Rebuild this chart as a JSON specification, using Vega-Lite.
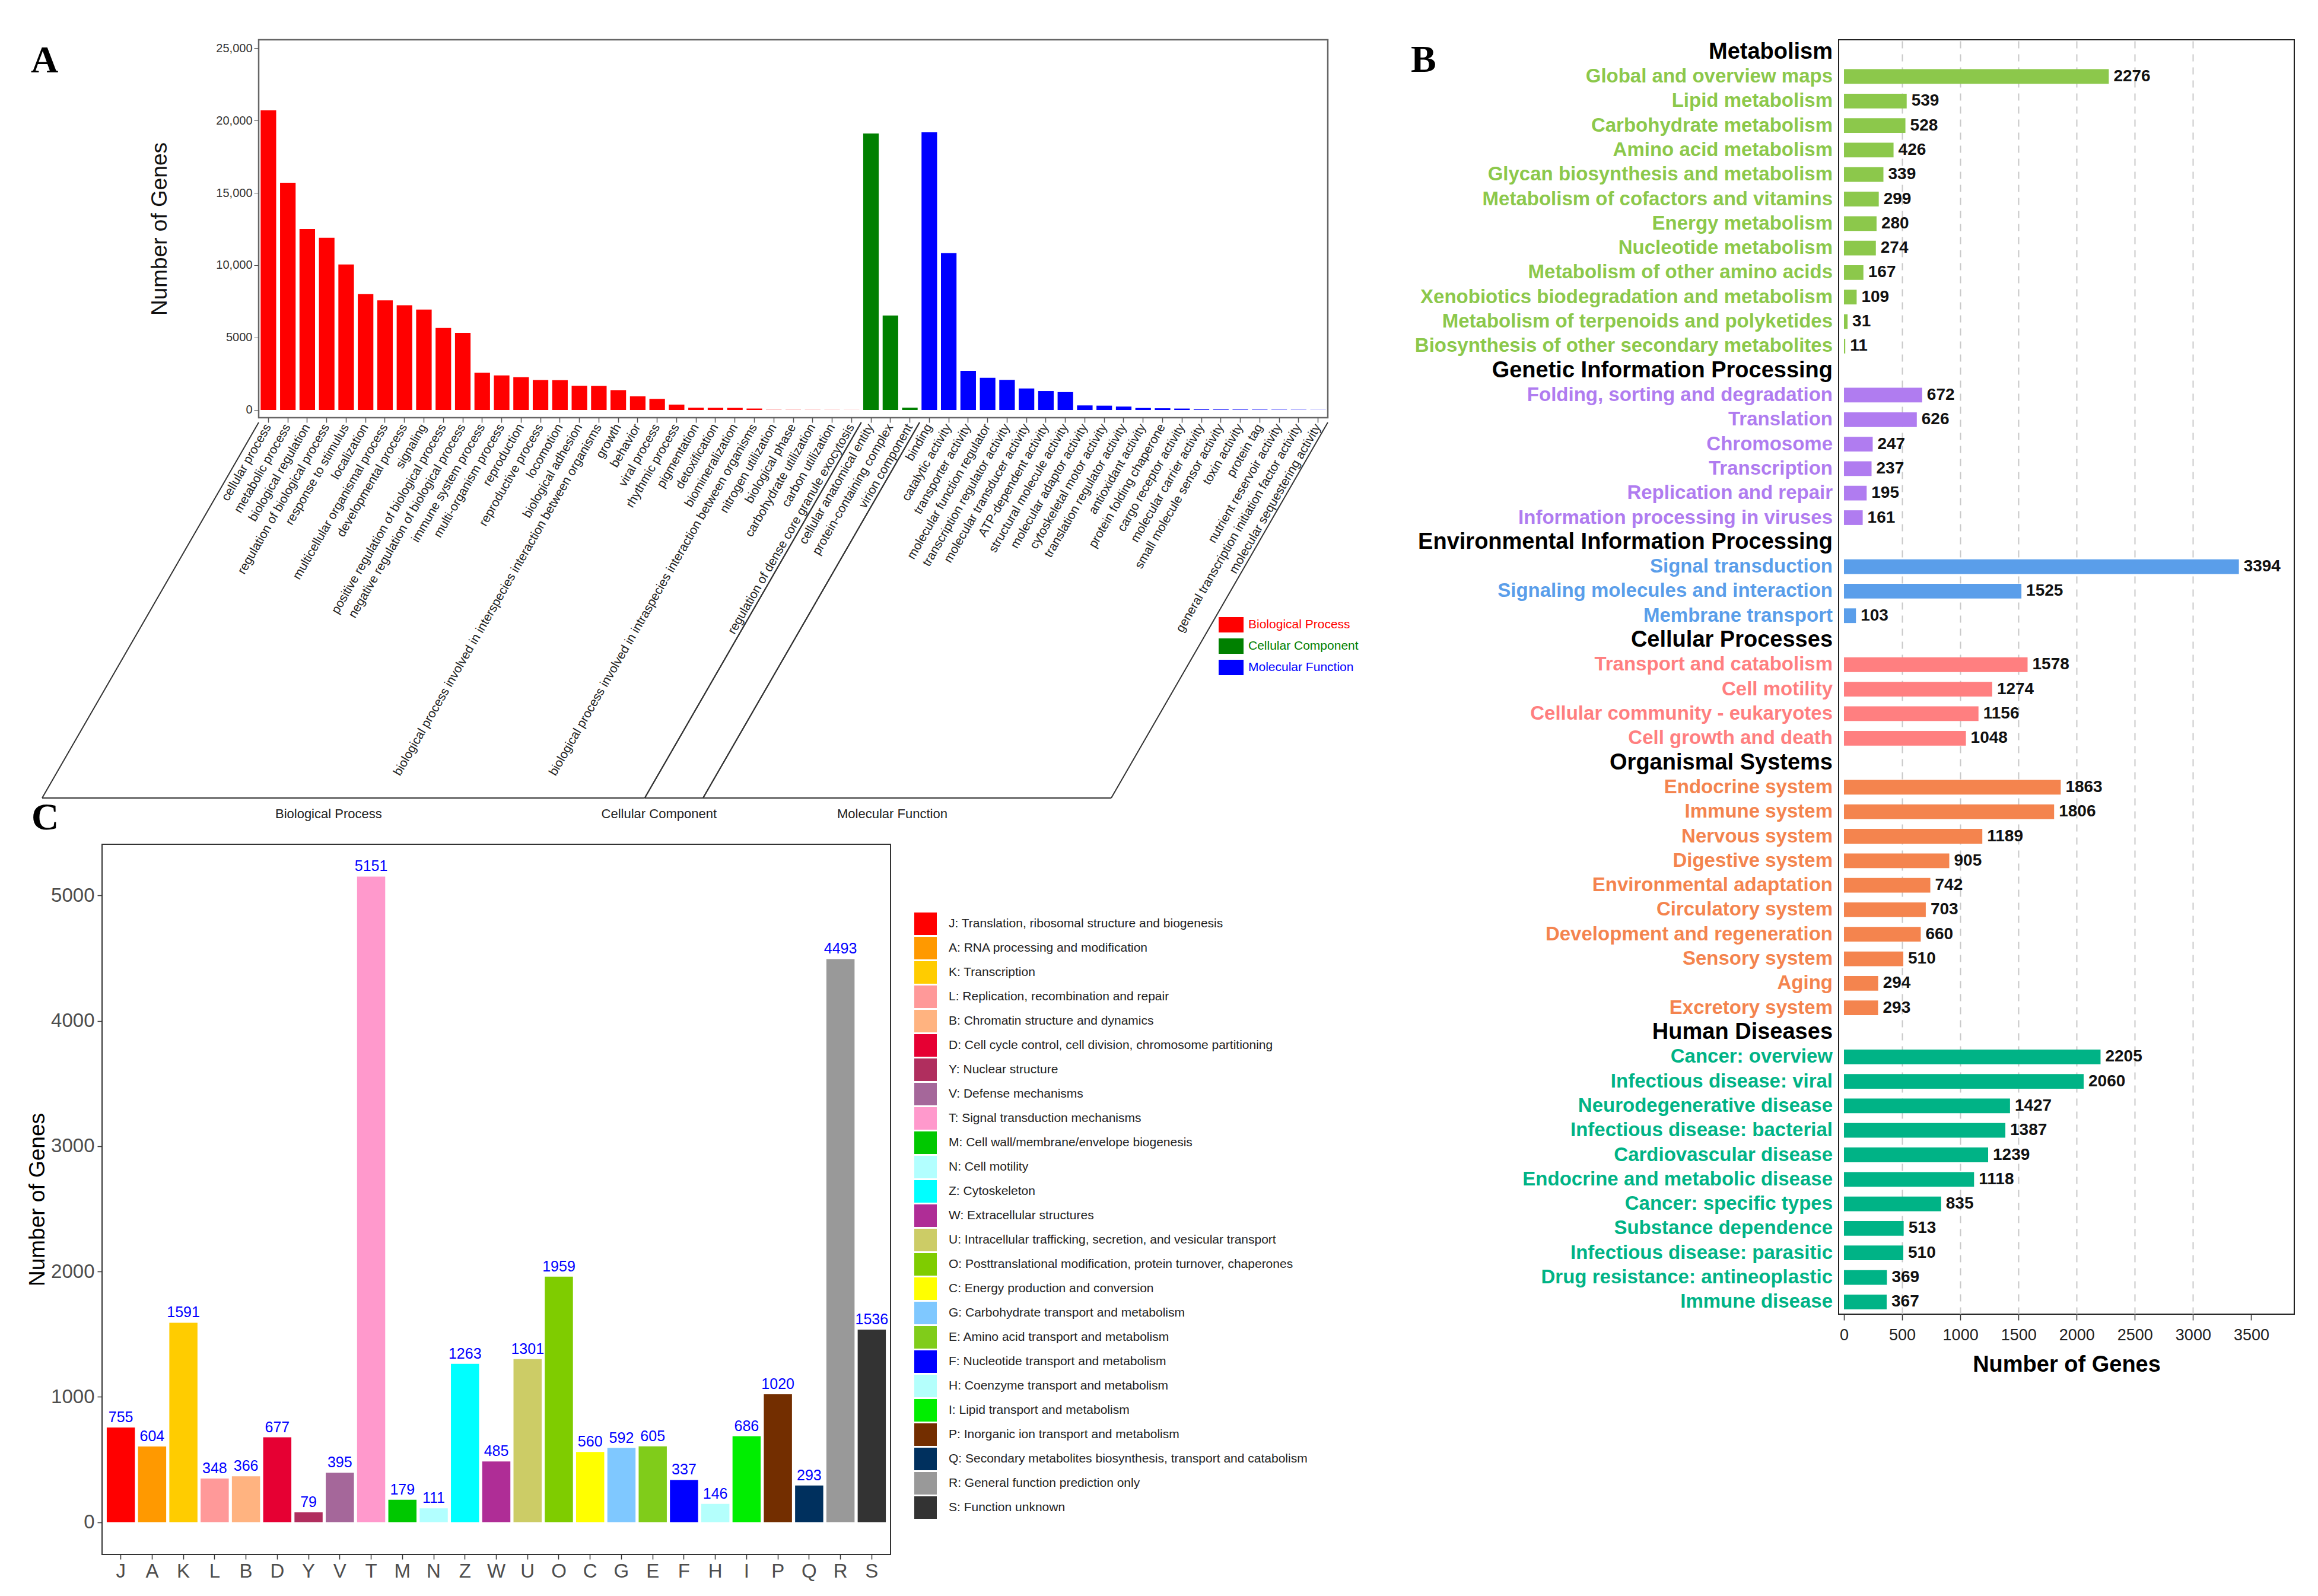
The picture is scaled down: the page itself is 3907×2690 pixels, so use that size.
{
  "$schema": "https://vega.github.io/schema/vega-lite/v6.json",
  "background": "white",
  "padding": {"left": 43, "top": 65, "right": 5, "bottom": 5},
  "config": {
    "font": "Liberation Sans",
    "view": {"stroke": null},
    "axis": {"labelFont": "Liberation Sans", "titleFont": "Liberation Sans"},
    "legend": {"labelFont": "Liberation Sans"},
    "text": {"font": "Liberation Sans"}
  },
  "spacing": 85,
  "resolve": {"scale": {"color": "independent"}, "legend": {"color": "independent"}},
  "hconcat": [
    {
      "spacing": -39,
      "resolve": {"scale": {"color": "independent"}, "legend": {"color": "independent"}},
      "vconcat": [
        {
          "spacing": -123,
          "resolve": {"scale": {"color": "independent"}, "legend": {"color": "independent"}},
          "hconcat": [
            {
              "width": 1,
              "height": 1,
              "view": {"stroke": null},
              "data": {"values": []},
              "mark": {"type": "point", "opacity": 0},
              "encoding": {}
            },
            {
              "width": 1802,
              "height": 637,
              "view": {"stroke": "#666666", "strokeWidth": 2.5},
              "title": {"text": "A", "anchor": "start", "frame": "group", "dx": -384, "dy": 119, "offset": 0, "baseline": "alphabetic", "font": "Liberation Serif", "fontSize": 64, "fontWeight": "bold", "color": "#000000"},
              "data": {"values": [
                {"cat": "cellular process", "group": "Biological Process", "n": 20700},
                {"cat": "metabolic process", "group": "Biological Process", "n": 15700},
                {"cat": "biological regulation", "group": "Biological Process", "n": 12500},
                {"cat": "regulation of biological process", "group": "Biological Process", "n": 11900},
                {"cat": "response to stimulus", "group": "Biological Process", "n": 10050},
                {"cat": "localization", "group": "Biological Process", "n": 8000},
                {"cat": "multicellular organismal process", "group": "Biological Process", "n": 7570},
                {"cat": "developmental process", "group": "Biological Process", "n": 7230},
                {"cat": "signaling", "group": "Biological Process", "n": 6940},
                {"cat": "positive regulation of biological process", "group": "Biological Process", "n": 5670},
                {"cat": "negative regulation of biological process", "group": "Biological Process", "n": 5330},
                {"cat": "immune system process", "group": "Biological Process", "n": 2570},
                {"cat": "multi-organism process", "group": "Biological Process", "n": 2390},
                {"cat": "reproduction", "group": "Biological Process", "n": 2260},
                {"cat": "reproductive process", "group": "Biological Process", "n": 2070},
                {"cat": "locomotion", "group": "Biological Process", "n": 2060},
                {"cat": "biological adhesion", "group": "Biological Process", "n": 1670},
                {"cat": "biological process involved in interspecies interaction between organisms", "group": "Biological Process", "n": 1660},
                {"cat": "growth", "group": "Biological Process", "n": 1370},
                {"cat": "behavior", "group": "Biological Process", "n": 940},
                {"cat": "viral process", "group": "Biological Process", "n": 765},
                {"cat": "rhythmic process", "group": "Biological Process", "n": 372},
                {"cat": "pigmentation", "group": "Biological Process", "n": 157},
                {"cat": "detoxification", "group": "Biological Process", "n": 150},
                {"cat": "biomineralization", "group": "Biological Process", "n": 145},
                {"cat": "biological process involved in intraspecies interaction between organisms", "group": "Biological Process", "n": 100},
                {"cat": "nitrogen utilization", "group": "Biological Process", "n": 12},
                {"cat": "biological phase", "group": "Biological Process", "n": 10},
                {"cat": "carbohydrate utilization", "group": "Biological Process", "n": 8},
                {"cat": "carbon utilization", "group": "Biological Process", "n": 6},
                {"cat": "regulation of dense core granule exocytosis", "group": "Biological Process", "n": 4},
                {"cat": "cellular anatomical entity", "group": "Cellular Component", "n": 19100},
                {"cat": "protein-containing complex", "group": "Cellular Component", "n": 6530},
                {"cat": "virion component", "group": "Cellular Component", "n": 160},
                {"cat": "binding", "group": "Molecular Function", "n": 19180},
                {"cat": "catalytic activity", "group": "Molecular Function", "n": 10840},
                {"cat": "transporter activity", "group": "Molecular Function", "n": 2700},
                {"cat": "molecular function regulator", "group": "Molecular Function", "n": 2220},
                {"cat": "transcription regulator activity", "group": "Molecular Function", "n": 2080},
                {"cat": "molecular transducer activity", "group": "Molecular Function", "n": 1490},
                {"cat": "ATP-dependent activity", "group": "Molecular Function", "n": 1310},
                {"cat": "structural molecule activity", "group": "Molecular Function", "n": 1235},
                {"cat": "molecular adaptor activity", "group": "Molecular Function", "n": 315},
                {"cat": "cytoskeletal motor activity", "group": "Molecular Function", "n": 300},
                {"cat": "translation regulator activity", "group": "Molecular Function", "n": 235},
                {"cat": "antioxidant activity", "group": "Molecular Function", "n": 137},
                {"cat": "protein folding chaperone", "group": "Molecular Function", "n": 118},
                {"cat": "cargo receptor activity", "group": "Molecular Function", "n": 98},
                {"cat": "molecular carrier activity", "group": "Molecular Function", "n": 40},
                {"cat": "small molecule sensor activity", "group": "Molecular Function", "n": 35},
                {"cat": "toxin activity", "group": "Molecular Function", "n": 30},
                {"cat": "protein tag", "group": "Molecular Function", "n": 25},
                {"cat": "nutrient reservoir activity", "group": "Molecular Function", "n": 20},
                {"cat": "general transcription initiation factor activity", "group": "Molecular Function", "n": 15},
                {"cat": "molecular sequestering activity", "group": "Molecular Function", "n": 8}
              ]},
              "layer": [
                {
                  "mark": {"type": "bar"},
                  "encoding": {
                    "x": {"field": "cat", "type": "nominal", "sort": null,
                          "scale": {"paddingInner": 0.2, "paddingOuter": 0.1},
                          "axis": {"title": null, "labelAngle": -60, "labelAlign": "right", "labelBaseline": "middle", "labelFontSize": 21, "labelColor": "#222222", "labelLimit": 1000, "labelPadding": 4, "labelOverlap": false, "tickSize": 8, "tickColor": "#555555", "tickWidth": 1.5, "domain": false}},
                    "y": {"field": "n", "type": "quantitative",
                          "scale": {"domain": [-533, 25574], "nice": false, "zero": false},
                          "axis": {"title": "Number of Genes", "values": [0, 5000, 10000, 15000, 20000, 25000], "labelExpr": "datum.value >= 10000 ? format(datum.value, ',') : format(datum.value, 'd')", "labelFontSize": 20, "labelColor": "#333333", "tickSize": 8, "tickColor": "#555555", "labelPadding": 3, "domain": false, "grid": false, "titleFontSize": 37, "titleFontWeight": "normal", "titleColor": "#111111", "titlePadding": 75}},
                    "color": {"field": "group", "type": "nominal",
                              "scale": {"domain": ["Biological Process", "Cellular Component", "Molecular Function"], "range": ["#FF0000", "#008000", "#0000FF"]},
                              "legend": {"title": null, "orient": "none", "legendX": 1618, "legendY": 965, "symbolType": "M-1,-0.62H1V0.62H-1Z", "symbolSize": 1764, "symbolStrokeWidth": 0, "labelFontSize": 21, "labelOffset": 8, "rowPadding": 1, "padding": 0, "labelLimit": 500,
                                         "labelColor": {"expr": "datum.label === 'Biological Process' ? '#FF0000' : datum.label === 'Cellular Component' ? '#008000' : '#0000FF'"}}}
                  }
                },
                {
                  "transform": [
                    {"window": [{"op": "first_value", "field": "cat", "as": "first"}, {"op": "last_value", "field": "cat", "as": "last"}, {"op": "row_number", "as": "rn"}], "groupby": ["group"], "frame": [null, null]},
                    {"filter": "datum.rn == 1"}
                  ],
                  "mark": {"type": "rule", "color": "#333333", "strokeWidth": 2, "yOffset": 8, "x2Offset": -365, "y2Offset": 641},
                  "encoding": {
                    "x": {"field": "first", "type": "nominal", "sort": null, "bandPosition": -0.125},
                    "x2": {"field": "first", "bandPosition": -0.125},
                    "y": {"datum": -533},
                    "y2": {"datum": -533}
                  }
                },
                {
                  "transform": [
                    {"window": [{"op": "first_value", "field": "cat", "as": "first"}, {"op": "last_value", "field": "cat", "as": "last"}, {"op": "row_number", "as": "rn"}], "groupby": ["group"], "frame": [null, null]},
                    {"filter": "datum.rn == 1"}
                  ],
                  "mark": {"type": "rule", "color": "#333333", "strokeWidth": 2, "yOffset": 8, "x2Offset": -365, "y2Offset": 641},
                  "encoding": {
                    "x": {"field": "last", "type": "nominal", "sort": null, "bandPosition": 1.125},
                    "x2": {"field": "last", "bandPosition": 1.125},
                    "y": {"datum": -533},
                    "y2": {"datum": -533}
                  }
                },
                {
                  "transform": [
                    {"window": [{"op": "first_value", "field": "cat", "as": "first"}, {"op": "last_value", "field": "cat", "as": "last"}, {"op": "row_number", "as": "rn"}], "groupby": ["group"], "frame": [null, null]},
                    {"filter": "datum.rn == 1"}
                  ],
                  "mark": {"type": "rule", "color": "#333333", "strokeWidth": 2, "xOffset": -365, "x2Offset": -365, "yOffset": 641},
                  "encoding": {
                    "x": {"field": "first", "type": "nominal", "sort": null, "bandPosition": -0.125},
                    "x2": {"field": "last", "bandPosition": 1.125},
                    "y": {"datum": -533}
                  }
                },
                {
                  "transform": [
                    {"joinaggregate": [{"op": "count", "as": "cnt"}], "groupby": ["group"]},
                    {"window": [{"op": "row_number", "as": "rn"}], "groupby": ["group"]},
                    {"filter": "datum.rn == ceil(datum.cnt / 2)"}
                  ],
                  "mark": {"type": "text", "xOffset": -390, "yOffset": 668, "fontSize": 22, "color": "#222222", "align": "center", "baseline": "middle"},
                  "encoding": {
                    "x": {"field": "cat", "type": "nominal", "sort": null, "bandPosition": 0.5},
                    "y": {"datum": -533},
                    "text": {"field": "group"}
                  }
                }
              ]
            }
          ]
        },
        {
          "width": 1329,
          "height": 1197,
          "view": {"stroke": "#333333", "strokeWidth": 2},
          "title": {"text": "C", "anchor": "start", "frame": "group", "dx": -119, "dy": 39, "offset": 0, "baseline": "alphabetic", "font": "Liberation Serif", "fontSize": 64, "fontWeight": "bold", "color": "#000000"},
          "data": {"values": [
            {"code": "J", "desc": "J: Translation, ribosomal structure and biogenesis", "count": 755},
            {"code": "A", "desc": "A: RNA processing and modification", "count": 604},
            {"code": "K", "desc": "K: Transcription", "count": 1591},
            {"code": "L", "desc": "L: Replication, recombination and repair", "count": 348},
            {"code": "B", "desc": "B: Chromatin structure and dynamics", "count": 366},
            {"code": "D", "desc": "D: Cell cycle control, cell division, chromosome partitioning", "count": 677},
            {"code": "Y", "desc": "Y: Nuclear structure", "count": 79},
            {"code": "V", "desc": "V: Defense mechanisms", "count": 395},
            {"code": "T", "desc": "T: Signal transduction mechanisms", "count": 5151},
            {"code": "M", "desc": "M: Cell wall/membrane/envelope biogenesis", "count": 179},
            {"code": "N", "desc": "N: Cell motility", "count": 111},
            {"code": "Z", "desc": "Z: Cytoskeleton", "count": 1263},
            {"code": "W", "desc": "W: Extracellular structures", "count": 485},
            {"code": "U", "desc": "U: Intracellular trafficking, secretion, and vesicular transport", "count": 1301},
            {"code": "O", "desc": "O: Posttranslational modification, protein turnover, chaperones", "count": 1959},
            {"code": "C", "desc": "C: Energy production and conversion", "count": 560},
            {"code": "G", "desc": "G: Carbohydrate transport and metabolism", "count": 592},
            {"code": "E", "desc": "E: Amino acid transport and metabolism", "count": 605},
            {"code": "F", "desc": "F: Nucleotide transport and metabolism", "count": 337},
            {"code": "H", "desc": "H: Coenzyme transport and metabolism", "count": 146},
            {"code": "I", "desc": "I: Lipid transport and metabolism", "count": 686},
            {"code": "P", "desc": "P: Inorganic ion transport and metabolism", "count": 1020},
            {"code": "Q", "desc": "Q: Secondary metabolites biosynthesis, transport and catabolism", "count": 293},
            {"code": "R", "desc": "R: General function prediction only", "count": 4493},
            {"code": "S", "desc": "S: Function unknown", "count": 1536}
          ]},
          "layer": [
            {
              "mark": {"type": "bar"},
              "encoding": {
                "x": {"field": "code", "type": "nominal", "sort": null,
                      "scale": {"paddingInner": 0.1, "paddingOuter": 0.15},
                      "axis": {"title": null, "labelAngle": 0, "labelFontSize": 33, "labelColor": "#4D4D4D", "tickSize": 8, "tickColor": "#333333", "tickWidth": 1.5, "labelPadding": 4, "domain": false}},
                "y": {"field": "count", "type": "quantitative",
                      "scale": {"domain": [-257.55, 5408.55], "nice": false, "zero": false},
                      "axis": {"title": "Number of Genes", "values": [0, 1000, 2000, 3000, 4000, 5000], "format": "d", "labelFontSize": 33, "labelColor": "#4D4D4D", "tickSize": 8, "tickColor": "#333333", "tickWidth": 1.5, "labelPadding": 5, "domain": false, "grid": false, "titleFontSize": 37, "titleFontWeight": "normal", "titleColor": "#000000", "titlePadding": 3}},
                "color": {"field": "desc", "type": "nominal", "sort": null,
                          "scale": {"range": ["#FF0000", "#FF9900", "#FFCC00", "#FF9999", "#FFB380", "#E60033", "#B02E5E", "#A5679A", "#FF99CC", "#00C800", "#B2FFFF", "#00FFFF", "#AF2D96", "#CCCC66", "#7FCC00", "#FFFF00", "#7FC8FF", "#80CC1A", "#0000FF", "#B4FFFC", "#00EE00", "#732E00", "#00305E", "#999999", "#333333"]},
                          "legend": {"title": null, "orient": "none", "legendX": 1369, "legendY": 115, "symbolType": "square", "symbolSize": 1444, "symbolStrokeWidth": 0, "labelFontSize": 21, "labelOffset": 20, "rowPadding": 3, "padding": 0, "labelLimit": 1000, "labelColor": "#222222"}}
              }
            },
            {
              "mark": {"type": "text", "baseline": "bottom", "dy": -4, "color": "#0000FF", "fontSize": 25},
              "encoding": {
                "x": {"field": "code", "type": "nominal", "sort": null},
                "y": {"field": "count", "type": "quantitative"},
                "text": {"field": "count"}
              }
            }
          ]
        }
      ]
    },
    {
      "width": 768,
      "height": 2148,
      "view": {"stroke": "#222222", "strokeWidth": 2},
      "title": {"text": "B", "anchor": "start", "frame": "group", "dx": -721, "dy": 118, "offset": 0, "baseline": "alphabetic", "font": "Liberation Serif", "fontSize": 64, "fontWeight": "bold", "color": "#000000"},
      "data": {"values": [
        {"term": "Metabolism", "cls": "Metabolism"},
        {"term": "Global and overview maps", "cls": "Metabolism", "n": 2276},
        {"term": "Lipid metabolism", "cls": "Metabolism", "n": 539},
        {"term": "Carbohydrate metabolism", "cls": "Metabolism", "n": 528},
        {"term": "Amino acid metabolism", "cls": "Metabolism", "n": 426},
        {"term": "Glycan biosynthesis and metabolism", "cls": "Metabolism", "n": 339},
        {"term": "Metabolism of cofactors and vitamins", "cls": "Metabolism", "n": 299},
        {"term": "Energy metabolism", "cls": "Metabolism", "n": 280},
        {"term": "Nucleotide metabolism", "cls": "Metabolism", "n": 274},
        {"term": "Metabolism of other amino acids", "cls": "Metabolism", "n": 167},
        {"term": "Xenobiotics biodegradation and metabolism", "cls": "Metabolism", "n": 109},
        {"term": "Metabolism of terpenoids and polyketides", "cls": "Metabolism", "n": 31},
        {"term": "Biosynthesis of other secondary metabolites", "cls": "Metabolism", "n": 11},
        {"term": "Genetic Information Processing", "cls": "Genetic Information Processing"},
        {"term": "Folding, sorting and degradation", "cls": "Genetic Information Processing", "n": 672},
        {"term": "Translation", "cls": "Genetic Information Processing", "n": 626},
        {"term": "Chromosome", "cls": "Genetic Information Processing", "n": 247},
        {"term": "Transcription", "cls": "Genetic Information Processing", "n": 237},
        {"term": "Replication and repair", "cls": "Genetic Information Processing", "n": 195},
        {"term": "Information processing in viruses", "cls": "Genetic Information Processing", "n": 161},
        {"term": "Environmental Information Processing", "cls": "Environmental Information Processing"},
        {"term": "Signal transduction", "cls": "Environmental Information Processing", "n": 3394},
        {"term": "Signaling molecules and interaction", "cls": "Environmental Information Processing", "n": 1525},
        {"term": "Membrane transport", "cls": "Environmental Information Processing", "n": 103},
        {"term": "Cellular Processes", "cls": "Cellular Processes"},
        {"term": "Transport and catabolism", "cls": "Cellular Processes", "n": 1578},
        {"term": "Cell motility", "cls": "Cellular Processes", "n": 1274},
        {"term": "Cellular community - eukaryotes", "cls": "Cellular Processes", "n": 1156},
        {"term": "Cell growth and death", "cls": "Cellular Processes", "n": 1048},
        {"term": "Organismal Systems", "cls": "Organismal Systems"},
        {"term": "Endocrine system", "cls": "Organismal Systems", "n": 1863},
        {"term": "Immune system", "cls": "Organismal Systems", "n": 1806},
        {"term": "Nervous system", "cls": "Organismal Systems", "n": 1189},
        {"term": "Digestive system", "cls": "Organismal Systems", "n": 905},
        {"term": "Environmental adaptation", "cls": "Organismal Systems", "n": 742},
        {"term": "Circulatory system", "cls": "Organismal Systems", "n": 703},
        {"term": "Development and regeneration", "cls": "Organismal Systems", "n": 660},
        {"term": "Sensory system", "cls": "Organismal Systems", "n": 510},
        {"term": "Aging", "cls": "Organismal Systems", "n": 294},
        {"term": "Excretory system", "cls": "Organismal Systems", "n": 293},
        {"term": "Human Diseases", "cls": "Human Diseases"},
        {"term": "Cancer: overview", "cls": "Human Diseases", "n": 2205},
        {"term": "Infectious disease: viral", "cls": "Human Diseases", "n": 2060},
        {"term": "Neurodegenerative disease", "cls": "Human Diseases", "n": 1427},
        {"term": "Infectious disease: bacterial", "cls": "Human Diseases", "n": 1387},
        {"term": "Cardiovascular disease", "cls": "Human Diseases", "n": 1239},
        {"term": "Endocrine and metabolic disease", "cls": "Human Diseases", "n": 1118},
        {"term": "Cancer: specific types", "cls": "Human Diseases", "n": 835},
        {"term": "Substance dependence", "cls": "Human Diseases", "n": 513},
        {"term": "Infectious disease: parasitic", "cls": "Human Diseases", "n": 510},
        {"term": "Drug resistance: antineoplastic", "cls": "Human Diseases", "n": 369},
        {"term": "Immune disease", "cls": "Human Diseases", "n": 367}
      ]},
      "encoding": {
        "y": {"field": "term", "type": "nominal", "sort": null, "scale": {"paddingInner": 0.4, "paddingOuter": 0.2}, "axis": null}
      },
      "layer": [
        {
          "mark": {"type": "text", "align": "right", "baseline": "middle", "dx": -19, "fontWeight": "bold", "font": "Liberation Sans"},
          "encoding": {
            "x": {"datum": 0, "type": "quantitative"},
            "text": {"field": "term"},
            "color": {"condition": {"test": "datum.n == null", "value": "#000000"}, "field": "cls", "type": "nominal", "legend": null},
            "size": {"condition": {"test": "datum.n == null", "value": 38}, "value": 33}
          }
        },
        {
          "transform": [{"filter": "datum.n != null"}],
          "mark": {"type": "bar"},
          "encoding": {
            "x": {"field": "n", "type": "quantitative",
                  "scale": {"domain": [-46, 3870], "nice": false, "zero": false},
                  "axis": {"title": "Number of Genes", "values": [0, 500, 1000, 1500, 2000, 2500, 3000, 3500], "format": "d", "labelFontSize": 27, "labelColor": "#222222", "tickSize": 10, "tickColor": "#333333", "tickWidth": 1.5, "labelPadding": 12, "domain": false, "grid": true, "gridDash": [12, 10], "gridColor": "#C8C8C8", "gridWidth": 2,
                           "gridOpacity": {"condition": {"test": "datum.value == 0 || datum.value == 3500", "value": 0}, "value": 1},
                           "titleFontSize": 38, "titleFontWeight": "bold", "titleColor": "#000000", "titlePadding": 18}},
            "color": {"field": "cls", "type": "nominal",
                      "scale": {"domain": ["Metabolism", "Genetic Information Processing", "Environmental Information Processing", "Cellular Processes", "Organismal Systems", "Human Diseases"], "range": ["#8CC84B", "#B07CF0", "#5A9EEA", "#FF7F80", "#F4844E", "#00B386"]},
                      "legend": null}
          }
        },
        {
          "transform": [{"filter": "datum.n != null"}],
          "mark": {"type": "text", "align": "left", "baseline": "middle", "dx": 8, "fontWeight": "bold", "fontSize": 28, "color": "#111111"},
          "encoding": {
            "x": {"field": "n", "type": "quantitative"},
            "text": {"field": "n"}
          }
        }
      ]
    }
  ]
}
